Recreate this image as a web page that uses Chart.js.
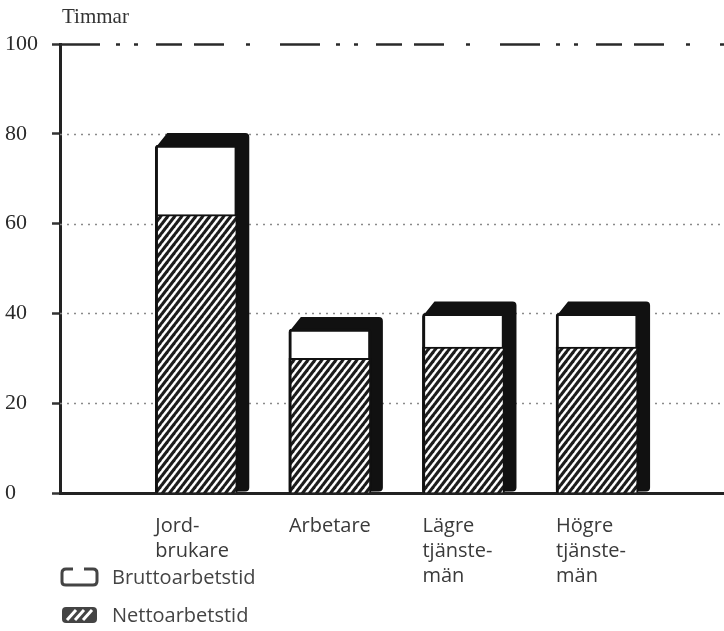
<!DOCTYPE html>
<html><head><meta charset="utf-8">
<script src="https://cdn.jsdelivr.net/npm/chart.js@4/dist/chart.umd.min.js"></script>
<style>html,body{margin:0;padding:0;background:#fff;}canvas{display:block;}</style>
</head><body>
<canvas id="c" width="724" height="631"></canvas>
<script>
// ---- data ----
const categories = [["Jord-","brukare"],["Arbetare"],["Lägre","tjänste-","män"],["Högre","tjänste-","män"]];
const bruttoValues = [77.5, 36.5, 40, 40];
const nettoValues = [62, 30, 32.5, 32.5];
const yTicks = [0, 20, 40, 60, 80, 100];
const seriesLabels = ["Bruttoarbetstid", "Nettoarbetstid"];
const yTitle = "Timmar";

// ---- hatch pattern ----
function makeHatch(fg, bg, w, h, lw) {
  const c = document.createElement('canvas');
  c.width = w; c.height = h;
  const g = c.getContext('2d');
  g.fillStyle = bg; g.fillRect(0, 0, w, h);
  g.strokeStyle = fg; g.lineWidth = lw; g.lineCap = 'butt';
  for (const off of [-w, 0, w]) {
    g.beginPath(); g.moveTo(off - 1, h + 1.4); g.lineTo(off + w + 1, -1.4); g.stroke();
  }
  return g.createPattern(c, 'repeat');
}
const ctx0 = document.getElementById('c').getContext('2d');
const hatch = makeHatch('#1c1c1c', '#ffffff', 7, 9, 3);

const DEPTH = 12;

const extrudePlugin = {
  id: 'extrude',
  beforeDatasetsDraw(chart) {
    const { ctx, chartArea, scales } = chart;
    // grid lines
    ctx.save();
    for (const v of yTicks) {
      if (v === 0) continue;
      const y = Math.round(scales.y.getPixelForValue(v)) + 0.5;
      ctx.beginPath();
      if (v === 100) {
        ctx.strokeStyle = '#2a2a2a'; ctx.lineWidth = 2.5;
        ctx.setLineDash([40, 16, 4, 14, 4, 18, 26, 12, 30, 22, 4, 30]);
      } else {
        ctx.strokeStyle = '#8a8a8a'; ctx.lineWidth = 1.6;
        ctx.setLineDash([2, 5]);
      }
      ctx.moveTo(chartArea.left, y); ctx.lineTo(chartArea.right, y); ctx.stroke();
    }
    ctx.restore();
    // 3D black extrusion behind the brutto bars
    const meta = chart.getDatasetMeta(1);
    ctx.save();
    ctx.fillStyle = '#111';
    for (const el of meta.data) {
      const { x, y, base, width } = el.getProps(['x', 'y', 'base', 'width'], true);
      const l = x - width / 2, r = x + width / 2, d = DEPTH, rad = 4;
      ctx.beginPath();
      ctx.moveTo(l, y + 3);
      ctx.lineTo(l + d, y - d);
      ctx.lineTo(r + d - rad, y - d);
      ctx.quadraticCurveTo(r + d, y - d, r + d, y - d + rad);
      ctx.lineTo(r + d, base - 5);
      ctx.quadraticCurveTo(r + d, base - 1, r + d - 4, base - 1);
      ctx.lineTo(l, base);
      ctx.closePath();
      ctx.fill();
    }
    ctx.restore();
  },
  afterDraw(chart) {
    const { ctx, chartArea } = chart;
    ctx.save();
    // y title
    ctx.fillStyle = '#333';
    ctx.font = '21px "Liberation Serif", serif';
    ctx.textBaseline = 'middle'; ctx.textAlign = 'left';
    ctx.fillText(yTitle, chartArea.left + 2, 17);
    // legend
    const lx = 62, iw = 35, ih = 16;
    const rows = [577, 615];
    ctx.font = '20px "Open Sans", sans-serif';
    seriesLabels.forEach((lab, i) => {
      const cy = rows[i];
      ctx.fillStyle = '#444';
      ctx.fillText(lab, 112, cy + 1);
      const top = cy - ih / 2;
      if (i === 0) {
        ctx.strokeStyle = '#444'; ctx.lineWidth = 3;
        ctx.beginPath();
        ctx.moveTo(lx + 11, top);
        ctx.lineTo(lx + 4, top);
        ctx.quadraticCurveTo(lx, top, lx, top + 4);
        ctx.lineTo(lx, top + ih - 3);
        ctx.quadraticCurveTo(lx, top + ih, lx + 4, top + ih);
        ctx.lineTo(lx + iw - 4, top + ih);
        ctx.quadraticCurveTo(lx + iw, top + ih, lx + iw, top + ih - 4);
        ctx.lineTo(lx + iw, top + 4);
        ctx.quadraticCurveTo(lx + iw, top, lx + iw - 4, top);
        ctx.lineTo(lx + 22, top);
        ctx.stroke();
      } else {
        ctx.fillStyle = '#444';
        ctx.beginPath();
        ctx.roundRect(lx, top, iw, ih, 4);
        ctx.fill();
        ctx.strokeStyle = '#fff'; ctx.lineWidth = 3;
        for (const sx of [8, 16, 24]) {
          ctx.beginPath();
          ctx.moveTo(lx + sx - 3, top + ih - 3);
          ctx.lineTo(lx + sx + 6, top + 3);
          ctx.stroke();
        }
      }
    });
    ctx.restore();
  }
};

new Chart(ctx0, {
  type: 'bar',
  data: {
    datasets: [
      {
        label: seriesLabels[1],
        data: nettoValues.map((v, i) => ({ x: i + 1, y: v })),
        backgroundColor: hatch,
        borderColor: '#111',
        borderWidth: { top: 2, left: 3, right: 2, bottom: 0 },
        barThickness: 82,
        grouped: false
      },
      {
        label: seriesLabels[0],
        data: bruttoValues.map((v, i) => ({ x: i + 1, y: v })),
        backgroundColor: '#ffffff',
        borderColor: '#111',
        borderWidth: 3,
        borderRadius: 3,
        borderSkipped: false,
        barThickness: 82,
        grouped: false
      }
    ]
  },
  options: {
    responsive: false,
    animation: false,
    layout: { padding: { top: 44, left: 5, right: 0, bottom: 0 } },
    plugins: { legend: { display: false }, tooltip: { enabled: false }, title: { display: false } },
    scales: {
      x: {
        type: 'linear',
        offset: false,
        min: -0.02,
        max: 4.95,
        afterBuildTicks: (s) => { s.ticks = categories.map((c, i) => ({ value: i + 1 })); },
        afterFit: (s) => { s.height = 138; },
        grid: { display: false, drawTicks: false, offset: false },
        border: { display: true, color: '#222', width: 3 },
        ticks: {
          callback: (v) => categories[v - 1],
          align: 'start',
          labelOffset: -41,
          padding: 21,
          maxRotation: 0,
          autoSkip: false,
          color: '#3a3a3a',
          font: { family: '"Open Sans", sans-serif', size: 20, lineHeight: 1.25 }
        }
      },
      y: {
        min: 0,
        max: 100,
        afterBuildTicks: (s) => { s.ticks = yTicks.map(v => ({ value: v })); },
        afterFit: (s) => { s.width = 55; },
        grid: { drawOnChartArea: false, drawTicks: true, tickLength: 8, tickWidth: 2.5, tickColor: '#333' },
        border: { display: true, color: '#222', width: 3 },
        ticks: {
          crossAlign: 'far',
          padding: 6,
          color: '#2a2a2a',
          font: { family: '"Liberation Serif", serif', size: 22 }
        }
      }
    }
  },
  plugins: [extrudePlugin]
});
</script>
</body></html>
